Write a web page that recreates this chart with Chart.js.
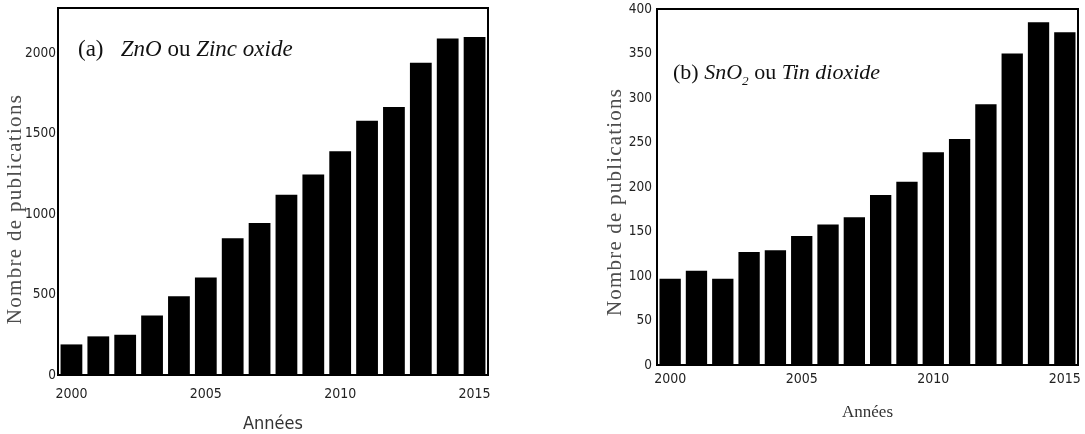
<!DOCTYPE html>
<html>
<head>
<meta charset="utf-8">
<script src="https://cdn.jsdelivr.net/npm/chart.js@4.4.1/dist/chart.umd.min.js"></script>
<style>
  html, body { margin: 0; padding: 0; background: #fff; }
  #wrap { position: relative; width: 1085px; height: 434px; }
  .box { position: absolute; top: 0; height: 434px; }
  #boxA { left: 0; width: 500px; }
  #boxB { left: 580px; width: 505px; }
</style>
</head>
<body>
<div id="wrap">
  <div class="box" id="boxA"><canvas id="chartZnO"></canvas></div>
  <div class="box" id="boxB"><canvas id="chartSnO2"></canvas></div>
</div>
<script>
// years (categories)
const years = [2000, 2001, 2002, 2003, 2004, 2005, 2006, 2007, 2008, 2009, 2010, 2011, 2012, 2013, 2014, 2015];
const labeledYears = [2000, 2005, 2010, 2015];

// number of publications per year
const znoPublications = [190, 240, 250, 370, 490, 605, 850, 945, 1120, 1245, 1390, 1580, 1665, 1940, 2090, 2100];
const sno2Publications = [97, 106, 97, 127, 129, 145, 158, 166, 191, 206, 239, 254, 293, 350, 385, 374];

// y tick labels
const znoTicks = [0, 500, 1000, 1500, 2000];
const sno2Ticks = [0, 50, 100, 150, 200, 250, 300, 350, 400];

const SANS_NARROW = '"Liberation Sans Narrow", "Arial Narrow", "DejaVu Sans Condensed", sans-serif';
const SERIF = '"Liberation Serif", "Times New Roman", serif';

// frame around the plot + rotated y title + panel label with mixed italics
const decorPlugin = {
  id: 'decor',
  afterDraw(chart, args, opts) {
    const ctx = chart.ctx;
    const a = chart.chartArea;
    ctx.save();
    ctx.strokeStyle = '#000';
    ctx.lineWidth = opts.frameWidth;
    ctx.strokeRect(a.left, a.top, a.right - a.left, a.bottom - a.top);
    ctx.restore();

    // y axis title
    const yt = opts.yTitle;
    ctx.save();
    ctx.translate(yt.x, yt.y);
    ctx.rotate(-Math.PI / 2);
    ctx.font = yt.size + 'px ' + SERIF;
    ctx.letterSpacing = yt.spacing + 'px';
    ctx.textAlign = 'center';
    ctx.textBaseline = 'middle';
    ctx.fillStyle = yt.color;
    ctx.fillText(yt.text, 0, 0);
    ctx.restore();

    // panel label
    const lab = opts.label;
    ctx.save();
    ctx.fillStyle = '#111';
    ctx.textBaseline = 'alphabetic';
    let x = lab.x;
    lab.runs.forEach(r => {
      const size = r.sub ? lab.size * 0.6 : lab.size;
      ctx.font = (r.italic ? 'italic ' : '') + size + 'px ' + SERIF;
      ctx.fillText(r.text, x, lab.y + (r.sub ? lab.size * 0.28 : 0));
      x += ctx.measureText(r.text).width;
    });
    ctx.restore();
  }
};

function makeChart(id, values, tickValues, cfg) {
  return new Chart(document.getElementById(id), {
    type: 'bar',
    data: {
      labels: years,
      datasets: [{
        data: values,
        backgroundColor: '#000',
        borderWidth: 0,
        barPercentage: 0.81,
        categoryPercentage: 1.0
      }]
    },
    options: {
      responsive: true,
      maintainAspectRatio: false,
      animation: false,
      layout: { padding: cfg.padding },
      plugins: {
        legend: { display: false },
        tooltip: { enabled: false },
        decor: cfg.decor
      },
      scales: {
        x: {
          offset: true,
          grid: { display: false, drawTicks: false },
          border: { display: false },
          ticks: {
            autoSkip: false,
            maxRotation: 0,
            padding: cfg.xTickPad,
            color: '#222',
            font: { family: SANS_NARROW, size: 14 },
            callback: (v, i) => labeledYears.includes(years[i]) ? String(years[i]) : ''
          },
          title: cfg.xTitle,
          afterFit: s => {
            s.height = cfg.xHeight;
            s.paddingLeft = 0;
            s.paddingRight = 0;
          }
        },
        y: {
          min: 0,
          max: cfg.yMax,
          grid: { display: false, drawTicks: false },
          border: { display: false },
          ticks: {
            padding: cfg.yTickPad,
            color: '#222',
            font: { family: SANS_NARROW, size: 13.5 },
            callback: v => String(v)
          },
          afterBuildTicks: s => { s.ticks = tickValues.map(v => ({ value: v })); },
          afterFit: s => {
            s.width = cfg.yWidth;
            s.paddingTop = 0;
            s.paddingBottom = 0;
          }
        }
      }
    },
    plugins: [decorPlugin]
  });
}

makeChart('chartZnO', znoPublications, znoTicks, {
  yMax: 2280,
  padding: { left: 0, top: 8, right: 12, bottom: 0 },
  xHeight: 59,
  yWidth: 58,
  xTickPad: 11,
  yTickPad: 2,
  xTitle: {
    display: true, text: 'Années', color: '#333',
    font: { family: SANS_NARROW, size: 18, lineHeight: 1.0 },
    padding: { top: 1, bottom: 1 }
  },
  decor: {
    frameWidth: 2,
    yTitle: { text: 'Nombre de publications', x: 15, y: 209, size: 21, spacing: 1.3, color: '#4d4d4d' },
    label: {
      x: 78, y: 56, size: 23,
      runs: [
        { text: '(a)   ' },
        { text: 'ZnO', italic: true },
        { text: ' ou ' },
        { text: 'Zinc oxide', italic: true }
      ]
    }
  }
});

makeChart('chartSnO2', sno2Publications, sno2Ticks, {
  yMax: 400,
  padding: { left: 0, top: 9, right: 7, bottom: 0 },
  xHeight: 69,
  yWidth: 77,
  xTickPad: 6,
  yTickPad: 5,
  xTitle: {
    display: true, text: 'Années', color: '#333',
    font: { family: SERIF, size: 17 },
    padding: { top: 11, bottom: 11 }
  },
  decor: {
    frameWidth: 2,
    yTitle: { text: 'Nombre de publications', x: 35, y: 202, size: 21, spacing: 1.2, color: '#4d4d4d' },
    label: {
      x: 93, y: 79, size: 22,
      runs: [
        { text: '(b) ' },
        { text: 'SnO', italic: true },
        { text: '2', italic: true, sub: true },
        { text: ' ou ' },
        { text: 'Tin dioxide', italic: true }
      ]
    }
  }
});
</script>
</body>
</html>
